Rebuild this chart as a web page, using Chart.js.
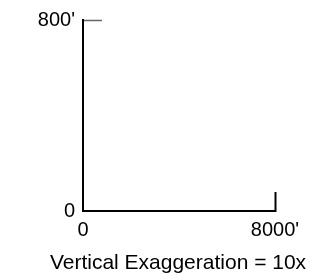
<!DOCTYPE html>
<html>
<head>
<meta charset="utf-8">
<script src="https://cdn.jsdelivr.net/npm/chart.js@4/dist/chart.umd.min.js"></script>
<style>
  body { margin: 0; background: #fff; }
  #wrap { width: 328px; height: 280px; }
</style>
</head>
<body>
<div id="wrap"><canvas id="myChart" width="328" height="280"></canvas></div>
<script>
// axis ranges and tick labels
const xTickValues = [0, 8000]
const xTickLabels = ['0', "8000'"]
const yTickValues = [0, 800]
const yTickLabels = ['0', "800'"]
const titleText = 'Vertical Exaggeration = 10x'

const fontFamily = "'Liberation Sans', Arial, sans-serif"

// hide the tick at the origin, it sits on the other axis anyway
const hideFirst = (color) => (c) => c.index === 0 ? 'rgba(0,0,0,0)' : color

let ctx = document.getElementById('myChart').getContext('2d')
var chart = new Chart(ctx, {
    type: 'scatter',
    data: {
        datasets: [{
            label: 'profile',
            data: []
        }]
    },
    options: {
        responsive: false,
        animation: false,
        layout: {
            padding: {left: 28, right: 0, top: 20, bottom: 4}
        },
        plugins: {
            legend: {display: false},
            tooltip: {enabled: false},
            title: {
                display: true,
                position: 'bottom',
                text: titleText,
                color: '#000',
                padding: 0,
                font: {family: fontFamily, size: 21, weight: 'normal'}
            }
        },
        scales: {
            x: {
                type: 'linear',
                min: xTickValues[0],
                max: xTickValues[xTickValues.length - 1],
                afterBuildTicks: (axis) => {
                    axis.ticks = xTickValues.map(v => ({value: v}))
                },
                afterFit: (axis) => {
                    axis.height = 39.8
                    axis.paddingLeft = 6
                    axis.paddingRight = 25
                },
                border: {display: true, color: '#000', width: 2},
                grid: {
                    drawOnChartArea: false,
                    drawTicks: true,
                    tickLength: -19,
                    tickColor: hideFirst('#000'),
                    tickWidth: 2
                },
                ticks: {
                    padding: 26,
                    color: '#000',
                    maxRotation: 0,
                    font: {family: fontFamily, size: 20},
                    callback: (v, i) => xTickLabels[i]
                }
            },
            y: {
                type: 'linear',
                min: yTickValues[0],
                max: yTickValues[yTickValues.length - 1],
                afterBuildTicks: (axis) => {
                    axis.ticks = yTickValues.map(v => ({value: v}))
                },
                afterFit: (axis) => {
                    axis.width = 55
                    // the tick padding is only there to push labels past the inward ticks
                    axis.paddingTop = 12
                    axis.paddingBottom = 12
                },
                border: {display: true, color: '#000', width: 2},
                grid: {
                    drawOnChartArea: false,
                    drawTicks: true,
                    tickLength: -19,
                    tickColor: hideFirst('#666'),
                    tickWidth: 1.5
                },
                ticks: {
                    padding: 27,
                    color: '#000',
                    font: {family: fontFamily, size: 20},
                    callback: (v, i) => yTickLabels[i]
                }
            },
            // empty axis on the right, only there to keep room for the 8000' label
            yRight: {
                type: 'linear',
                position: 'right',
                afterFit: (axis) => { axis.width = 53 },
                border: {display: false},
                grid: {display: false},
                ticks: {display: false}
            }
        }
    }
})
</script>
</body>
</html>
